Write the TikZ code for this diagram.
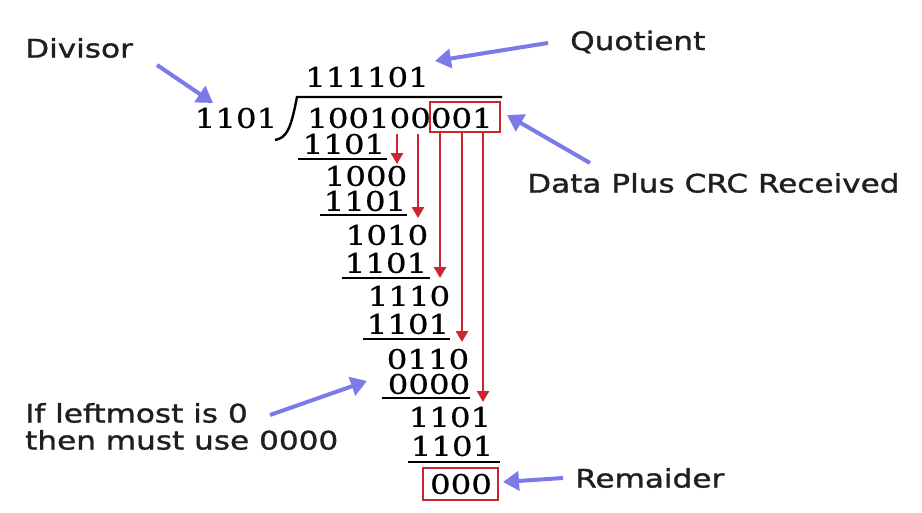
\documentclass[tikz,border=0pt]{standalone}
\usepackage{fontspec}
\usetikzlibrary{arrows.meta}
\newfontfamily\digitfont[FakeStretch=1.2,FakeBold=0.7]{DejaVu Serif}
\newfontfamily\labelfont[FakeStretch=1.22,FakeBold=1.2]{DejaVu Sans}
\definecolor{crcred}{RGB}{206,36,48}
\definecolor{pointblue}{RGB}{122,122,232}
\tikzset{
  digits/.style={inner sep=0pt, font=\digitfont\fontsize{27}{30}\selectfont},
  lbl/.style={inner sep=0pt, anchor=west, font=\labelfont\fontsize{25.5}{30}\selectfont, text=black!88},
  rule/.style={line width=2.4pt, black},
  redarrow/.style={line width=2.6pt, crcred, -{Triangle[width=12pt,length=11pt]}},
  redbox/.style={line width=2.2pt, crcred},
  bluearrow/.style={line width=4pt, pointblue, -{Triangle[width=19pt,length=16pt]}},
}
\begin{document}
\begin{tikzpicture}[x=1pt,y=-1pt]
\useasboundingbox (0,0) rectangle (922,512);
\fill[white] (0,0) rectangle (922,512);

% long division
\node[digits] (q)   at (367,77)  {111101};
\node[digits] (dvs) at (236,118) {1101};
\node[digits] (dvd) at (400,118) {100100001};
\draw[line width=2.4pt] (275,140) .. controls (287,138) and (291,128) .. (297,97) -- (502,97);
\draw[redbox] (430,102) rectangle (500,132);

\node[digits] (r1)  at (344,144) {1101};
\draw[rule] (298,159) -- (387,159);
\node[digits] (r2)  at (366,176) {1000};
\node[digits] (r3)  at (365,201) {1101};
\draw[rule] (320,215) -- (407,215);
\node[digits] (r4)  at (387,235) {1010};
\node[digits] (r5)  at (386,263) {1101};
\draw[rule] (342,278) -- (430,278);
\node[digits] (r6)  at (409,296) {1110};
\node[digits] (r7)  at (408,324) {1101};
\draw[rule] (363,339) -- (450,339);
\node[digits] (r8)  at (428,359) {0110};
\node[digits] (r9)  at (429,384) {0000};
\draw[rule] (382,398) -- (470,398);
\node[digits] (r10) at (450,417) {1101};
\node[digits] (r11) at (452,446) {1101};
\draw[rule] (408,462) -- (500,462);
\node[digits] (rem) at (461,484) {000};
\draw[redbox] (423,468) rectangle (498,500);

% red bring-down arrows
\coordinate (a1s) at (397,134); \coordinate (a1e) at (397,164);
\coordinate (a2s) at (418,134); \coordinate (a2e) at (418,218);
\coordinate (a3s) at (440,132); \coordinate (a3e) at (440,278);
\coordinate (a4s) at (462,132); \coordinate (a4e) at (462,342);
\coordinate (a5s) at (483,132); \coordinate (a5e) at (483,402);
\draw[redarrow] (a1s) -- (a1e);
\draw[redarrow] (a2s) -- (a2e);
\draw[redarrow] (a3s) -- (a3e);
\draw[redarrow] (a4s) -- (a4e);
\draw[redarrow] (a5s) -- (a5e);

% labels
\node[lbl] (ldiv) at (25,48)  {Divisor};
\node[lbl] (lquo) at (570,42) {Quotient};
\node[lbl] (ldat) at (527,183) {Data Plus CRC Received};
\node[lbl] (lif1) at (25,413) {If leftmost is 0};
\node[lbl] (lif2) at (25,440) {then must use 0000};
\node[lbl] (lrem) at (575,478) {Remaider};

% blue pointer arrows
\coordinate (bdivs) at (157,65);  \coordinate (bdive) at (213,103);
\coordinate (bquos) at (548,43);  \coordinate (bquoe) at (435,61);
\coordinate (bdats) at (590,163); \coordinate (bdate) at (507,115);
\coordinate (bifs)  at (270,415); \coordinate (bife)  at (367,381);
\coordinate (brems) at (563,478); \coordinate (breme) at (503,482);
\draw[bluearrow] (bdivs) -- (bdive);
\draw[bluearrow] (bquos) -- (bquoe);
\draw[bluearrow] (bdats) -- (bdate);
\draw[bluearrow] (bifs)  -- (bife);
\draw[bluearrow] (brems) -- (breme);
\end{tikzpicture}
\end{document}
